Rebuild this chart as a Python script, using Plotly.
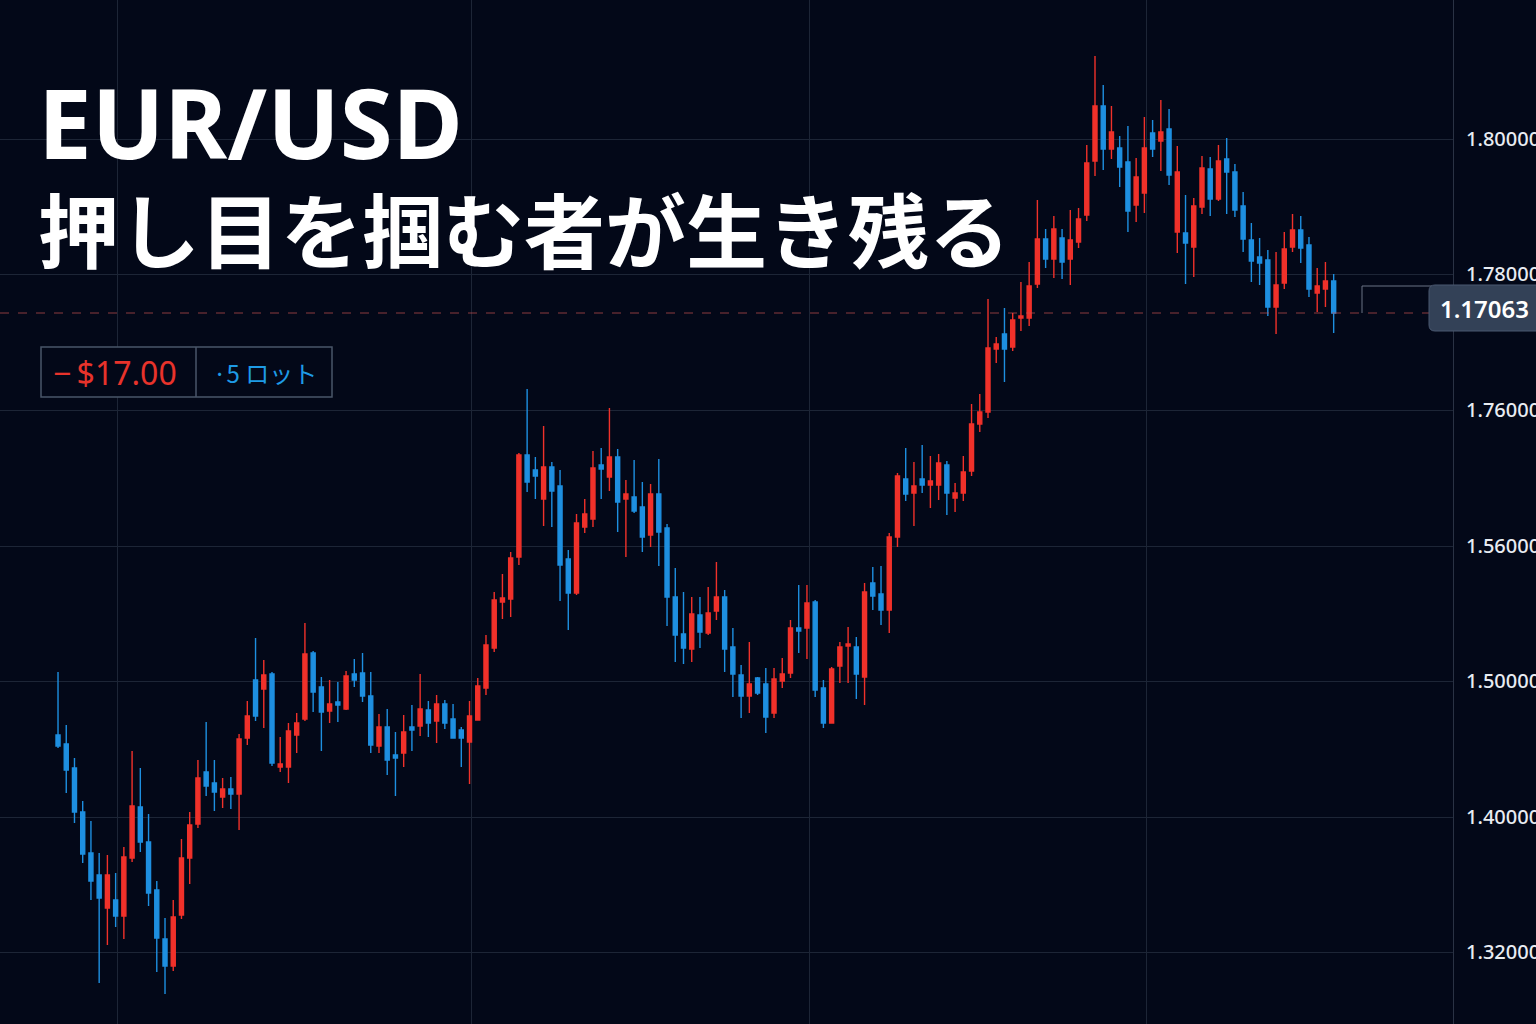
import plotly.graph_objects as go

# ---- data ----
opens = [1.3265,1.3256,1.3232,1.3188,1.3147,1.3125,1.3092,1.3100,1.3084,1.3142,
         1.3193,1.3158,1.3110,1.3061,1.3034,1.3085,1.3142,1.3176,1.3228,1.3217,
         1.3203,1.3211,1.3206,1.3262,1.3320,1.3311,1.3326,1.3233,1.3233,1.3265,
         1.3281,1.3347,1.3313,1.3289,1.3298,1.3291,1.3326,1.3327,1.3304,1.3254,
         1.3273,1.3245,1.3247,1.3273,1.3274,1.3290,1.3279,1.3296,1.3281,1.3270,
         1.3258,1.3280,1.3312,1.3352,1.3398,1.3401,1.3443,1.3545,1.3530,1.3501,
         1.3533,1.3514,1.3441,1.3407,1.3473,1.3481,1.3535,1.3523,1.3543,1.3501,
         1.3503,1.3493,1.3465,1.3506,1.3472,1.3403,1.3366,1.3351,1.3385,1.3367,
         1.3389,1.3403,1.3353,1.3325,1.3304,1.3322,1.3316,1.3287,1.3319,1.3327,
         1.3372,1.3372,1.3398,1.3312,1.3277,1.3334,1.3354,1.3353,1.3323,1.3417,
         1.3406,1.3390,1.3463,1.3521,1.3507,1.3521,1.3515,1.3515,1.3535,1.3502,
         1.3507,1.3529,1.3576,1.3588,1.3651,1.3666,1.3653,1.3682,1.3682,1.3716,
         1.3761,1.3741,1.3762,1.3741,1.3758,1.3785,1.3839,1.3894,1.3851,1.3852,
         1.3838,1.3795,1.3807,1.3867,1.3859,1.3871,1.3768,1.3767,1.3753,1.3793,
         1.3831,1.3801,1.3841,1.3828,1.3794,1.3760,1.3743,1.3740,1.3693,1.3717,
         1.3753,1.3770,1.3755,1.3707,1.3711,1.3719]
highs = [1.3328,1.3275,1.3242,1.3199,1.3179,1.3147,1.3145,1.3127,1.3153,1.3249,
         1.3232,1.3186,1.3119,1.3082,1.3100,1.3161,1.3188,1.3240,1.3278,1.3240,
         1.3222,1.3223,1.3266,1.3299,1.3362,1.3340,1.3328,1.3263,1.3277,1.3287,
         1.3377,1.3349,1.3323,1.3320,1.3318,1.3329,1.3341,1.3347,1.3328,1.3286,
         1.3291,1.3268,1.3285,1.3295,1.3326,1.3299,1.3305,1.3300,1.3296,1.3273,
         1.3299,1.3322,1.3365,1.3408,1.3426,1.3448,1.3547,1.3611,1.3543,1.3574,
         1.3538,1.3530,1.3450,1.3486,1.3501,1.3549,1.3552,1.3592,1.3551,1.3520,
         1.3540,1.3518,1.3516,1.3541,1.3476,1.3432,1.3408,1.3403,1.3403,1.3413,
         1.3438,1.3410,1.3372,1.3335,1.3358,1.3323,1.3332,1.3332,1.3342,1.3380,
         1.3415,1.3415,1.3400,1.3320,1.3333,1.3358,1.3373,1.3363,1.3417,1.3433,
         1.3434,1.3467,1.3527,1.3552,1.3538,1.3555,1.3544,1.3546,1.3539,1.3517,
         1.3544,1.3596,1.3606,1.3701,1.3663,1.3692,1.3687,1.3718,1.3738,1.3800,
         1.3771,1.3784,1.3771,1.3790,1.3792,1.3855,1.3944,1.3915,1.3894,1.3864,
         1.3874,1.3842,1.3883,1.3880,1.3900,1.3891,1.3854,1.3805,1.3802,1.3844,
         1.3843,1.3855,1.3862,1.3836,1.3808,1.3777,1.3762,1.3750,1.3748,1.3768,
         1.3786,1.3784,1.3763,1.3732,1.3738,1.3726]
lows = [1.3252,1.3207,1.3177,1.3137,1.3100,1.3017,1.3055,1.3073,1.3061,1.3138,
        1.3148,1.3094,1.3028,1.3006,1.3029,1.3081,1.3116,1.3172,1.3204,1.3189,
        1.3192,1.3191,1.3170,1.3255,1.3279,1.3272,1.3234,1.3228,1.3217,1.3247,
        1.3279,1.3288,1.3249,1.3277,1.3278,1.3290,1.3313,1.3298,1.3247,1.3247,
        1.3225,1.3204,1.3233,1.3249,1.3264,1.3263,1.3257,1.3271,1.3262,1.3233,
        1.3216,1.3280,1.3305,1.3348,1.3381,1.3383,1.3435,1.3508,1.3501,1.3474,
        1.3473,1.3399,1.3370,1.3405,1.3467,1.3473,1.3501,1.3509,1.3468,1.3443,
        1.3487,1.3448,1.3453,1.3434,1.3374,1.3338,1.3336,1.3338,1.3352,1.3365,
        1.3380,1.3328,1.3303,1.3282,1.3287,1.3305,1.3267,1.3282,1.3312,1.3322,
        1.3347,1.3341,1.3303,1.3272,1.3277,1.3317,1.3317,1.3301,1.3295,1.3390,
        1.3375,1.3367,1.3453,1.3499,1.3474,1.3507,1.3492,1.3500,1.3485,1.3488,
        1.3499,1.3524,1.3568,1.3582,1.3637,1.3618,1.3649,1.3669,1.3674,1.3712,
        1.3732,1.3722,1.3721,1.3715,1.3752,1.3779,1.3824,1.3830,1.3841,1.3813,
        1.3768,1.3778,1.3787,1.3843,1.3829,1.3815,1.3747,1.3716,1.3723,1.3786,
        1.3784,1.3799,1.3786,1.3783,1.3748,1.3718,1.3715,1.3684,1.3666,1.3711,
        1.3748,1.3737,1.3703,1.3688,1.3693,1.3667]
closes = [1.3254,1.3230,1.3188,1.3146,1.3119,1.3102,1.3125,1.3084,1.3143,1.3194,
          1.3158,1.3107,1.3062,1.3034,1.3083,1.3142,1.3175,1.3222,1.3214,1.3208,
          1.3211,1.3206,1.3261,1.3284,1.3284,1.3325,1.3237,1.3236,1.3269,1.3277,
          1.3346,1.3308,1.3288,1.3296,1.3295,1.3324,1.3320,1.3304,1.3255,1.3273,
          1.3240,1.3242,1.3268,1.3270,1.3291,1.3277,1.3296,1.3277,1.3262,1.3262,
          1.3284,1.3314,1.3355,1.3400,1.3402,1.3442,1.3545,1.3518,1.3524,1.3533,
          1.3509,1.3435,1.3407,1.3477,1.3486,1.3532,1.3531,1.3543,1.3498,1.3506,
          1.3489,1.3463,1.3506,1.3468,1.3403,1.3365,1.3352,1.3386,1.3368,1.3387,
          1.3403,1.3351,1.3326,1.3304,1.3316,1.3307,1.3283,1.3321,1.3326,1.3372,
          1.3369,1.3397,1.3310,1.3277,1.3331,1.3353,1.3356,1.3326,1.3408,1.3404,
          1.3390,1.3463,1.3524,1.3506,1.3514,1.3515,1.3519,1.3537,1.3507,1.3507,
          1.3528,1.3576,1.3588,1.3652,1.3656,1.3651,1.3680,1.3684,1.3714,1.3761,
          1.3741,1.3771,1.3738,1.3760,1.3781,1.3837,1.3894,1.3851,1.3868,1.3833,
          1.3789,1.3823,1.3852,1.3851,1.3868,1.3825,1.3828,1.3757,1.3794,1.3832,
          1.3801,1.3839,1.3828,1.3790,1.3761,1.3739,1.3737,1.3693,1.3715,1.3751,
          1.3770,1.3752,1.3711,1.3714,1.3719,1.3687]
bars = list(range(len(opens)))

tick_vals = [1.3048, 1.3183, 1.3319, 1.3454, 1.3590, 1.3726, 1.3861]
tick_text = ["1.32000", "1.40000", "1.50000", "1.56000", "1.76000", "1.78000", "1.80000"]
vgrid_vals = [7.2, 50.2, 91.3, 132.3]

title_main = "EUR/USD"
title_sub = "押し目を掴む者が生き残る"
pnl_text = "−\u2009$17.00"
lot_text = "·5 ロット"
price_text = "1.17063"

# ---- style ----
BG = "#030818"
GRID = "#1d2536"
RED = "#f0312a"
BLUE = "#1e8fe0"
W, H = 1536, 1024
PLOT_W = 1453  # plot area width in px


def px(xp):
    return xp / PLOT_W


def py(yp):
    return 1 - yp / H


fig = go.Figure()
fig.add_trace(go.Candlestick(
    x=bars, open=opens, high=highs, low=lows, close=closes,
    increasing=dict(line=dict(color=RED, width=1.4), fillcolor=RED),
    decreasing=dict(line=dict(color=BLUE, width=1.4), fillcolor=BLUE),
    whiskerwidth=0, hoverinfo="skip", showlegend=False,
))

shapes = []
# current price dashed line
shapes.append(dict(type="line", xref="paper", yref="y", x0=0, x1=px(1430),
                   y0=closes[-1], y1=closes[-1],
                   line=dict(color="rgba(200,80,80,0.7)", width=1.2, dash="dash")))
# small bracket line near price label
shapes.append(dict(type="line", xref="paper", yref="paper", x0=px(1362), x1=px(1432),
                   y0=py(286), y1=py(286), line=dict(color="#6b7384", width=1)))
shapes.append(dict(type="line", xref="paper", yref="paper", x0=px(1362), x1=px(1362),
                   y0=py(286), y1=py(313), line=dict(color="#6b7384", width=1)))
# price label rounded box
x0, x1, y0, y1 = px(1429), px(1545), py(331), py(285)
rx, ry = 6 / PLOT_W, 6 / H
path = (f"M {x0+rx},{y1} L {x1},{y1} L {x1},{y0} L {x0+rx},{y0} "
        f"Q {x0},{y0} {x0},{y0+ry} L {x0},{y1-ry} Q {x0},{y1} {x0+rx},{y1} Z")
shapes.append(dict(type="path", xref="paper", yref="paper", path=path,
                   fillcolor="#334157", line=dict(color="#4a5870", width=1)))
# P&L badge
shapes.append(dict(type="rect", xref="paper", yref="paper", x0=px(41), x1=px(332),
                   y0=py(397), y1=py(347), fillcolor=BG,
                   line=dict(color="#4a5568", width=1.5)))
shapes.append(dict(type="line", xref="paper", yref="paper", x0=px(196), x1=px(196),
                   y0=py(397), y1=py(347), line=dict(color="#4a5568", width=1.5)))

annotations = [
    dict(text=title_main, xref="paper", yref="paper", x=px(36), y=py(121),
         xanchor="left", yanchor="middle", showarrow=False,
         font=dict(family="Noto Sans", size=96, color="white", weight="bold")),
    dict(text=title_sub, xref="paper", yref="paper", x=px(36), y=py(226),
         xanchor="left", yanchor="middle", showarrow=False,
         font=dict(family="Noto Sans CJK JP", size=81, color="white", weight="bold")),
    dict(text=pnl_text, xref="paper", yref="paper", x=px(115), y=py(372),
         xanchor="center", yanchor="middle", showarrow=False,
         font=dict(family="Noto Sans", size=32, color="#e8332b")),
    dict(text=lot_text, xref="paper", yref="paper", x=px(265), y=py(372),
         xanchor="center", yanchor="middle", showarrow=False,
         font=dict(family="Noto Sans CJK JP", size=24, color="#1e9be6")),
    dict(text=price_text, xref="paper", yref="paper", x=px(1484), y=py(308),
         xanchor="center", yanchor="middle", showarrow=False,
         font=dict(family="Noto Sans", size=24, color="white", weight=600)),
]

fig.update_layout(
    width=W, height=H,
    margin=dict(l=0, r=W - PLOT_W, t=0, b=0, autoexpand=False),
    paper_bgcolor=BG, plot_bgcolor=BG,
    shapes=shapes, annotations=annotations,
    showlegend=False, hovermode=False,
    xaxis=dict(range=[-7.05, 169.5], rangeslider=dict(visible=False),
               tickmode="array", tickvals=vgrid_vals, showticklabels=False,
               showgrid=True, gridcolor=GRID, gridwidth=1, zeroline=False,
               showline=False, ticks=""),
    yaxis=dict(range=[1.2976, 1.4], side="right", tickmode="array",
               tickvals=tick_vals, ticktext=tick_text,
               showgrid=True, gridcolor=GRID, gridwidth=1, zeroline=False,
               showline=True, linecolor="#2a3244", linewidth=1, mirror=False,
               ticks="", ticklabelstandoff=8,
               tickfont=dict(family="Noto Sans", size=20, color="#e8ecf2", weight=500)),
)

fig.write_html("out.html", include_plotlyjs=True, config={"displayModeBar": False},
               post_script="document.body.style.margin='0';document.body.style.background='#030818';")
